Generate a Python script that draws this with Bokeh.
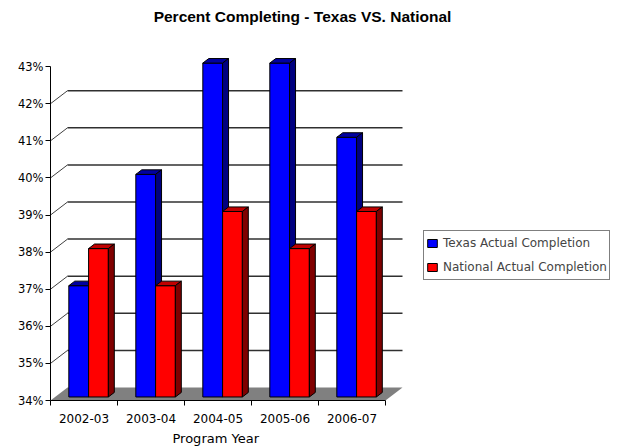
from bokeh.plotting import figure
from bokeh.models import (Range1d, FixedTicker, Legend, LegendItem,
                          PrintfTickFormatter, Title, Label)
from bokeh.embed import file_html
from bokeh.resources import INLINE

# ---- data -------------------------------------------------------------
years = ["2002-03", "2003-04", "2004-05", "2005-06", "2006-07"]
texas = [37, 40, 43, 43, 41]
national = [38, 37, 39, 38, 39]
pct_ticks = [34, 35, 36, 37, 38, 39, 40, 41, 42, 43]
series_names = ["Texas Actual Completion", "National Actual Completion"]
chart_title = "Percent Completing - Texas VS. National"

# ---- layout constants --------------------------------------------------
W, H = 620, 448
B_LEFT, B_RIGHT, B_TOP, B_BOTTOM = 50, 0, 0, 48
PX_CAT = 67.0    # pixels per category along x
PX_PCT = 37.1    # pixels per percentage point along y
frame_w = W - B_LEFT - B_RIGHT
frame_h = H - B_TOP - B_BOTTOM

n = len(years)
y_base = pct_ticks[0]
y_top = pct_ticks[-1]
y_max = y_base + frame_h / PX_PCT

# depth of the 3-D box, expressed in data units
DX = 17 / PX_CAT
DY = 13 / PX_PCT

# bar geometry (fractions of a category / of the box depth)
BW = 0.295
GAP = (1 - 2 * BW) / 2
F0, F1 = 0.27, 0.62

FONT = "DejaVu Sans"

p = figure(
    width=W, height=H,
    x_range=Range1d(0, frame_w / PX_CAT),
    y_range=Range1d(y_base, y_max),
    min_border_left=B_LEFT, min_border_right=B_RIGHT,
    min_border_top=B_TOP, min_border_bottom=B_BOTTOM,
    toolbar_location=None, output_backend="svg",
)
p.xgrid.visible = False
p.ygrid.visible = False
p.outline_line_color = None
p.background_fill_color = "white"
p.border_fill_color = "white"

# chart title, 16 px below the top edge
p.add_layout(Label(
    x=(302 - B_LEFT) / PX_CAT, y=y_max - 16 / PX_PCT,
    text=chart_title, text_align="center", text_baseline="middle",
    text_font="Liberation Sans", text_font_size="15.5px",
    text_font_style="bold", text_color="black",
))

# ---- floor and back wall ----------------------------------------------
p.patch([0, n, n + DX, DX], [y_base, y_base, y_base + DY, y_base + DY],
        fill_color="#808080", line_color=None)

grid_levels = pct_ticks[1:-1]
p.segment(x0=[DX] * len(grid_levels), y0=[v + DY for v in grid_levels],
          x1=[n + DX] * len(grid_levels), y1=[v + DY for v in grid_levels],
          line_color="#303030", line_width=1.5)
p.segment(x0=[0] * len(grid_levels), y0=grid_levels,
          x1=[DX] * len(grid_levels), y1=[v + DY for v in grid_levels],
          line_color="#404040", line_width=1)

# ---- 3-D bars ----------------------------------------------------------
colors = [("#0000FF", "#0000A0", "#000080"),
          ("#FF0000", "#C00000", "#800000")]
front_renderers = []
dd = F1 - F0
for s, vals in enumerate([texas, national]):
    front, top, side = colors[s]
    xl = [i + GAP + s * BW + F0 * DX for i in range(n)]
    xr = [x + BW for x in xl]
    yb = y_base + F0 * DY
    yt = [v + F0 * DY for v in vals]

    fr = p.quad(left=xl, right=xr, bottom=[yb] * n, top=yt,
                fill_color=front, line_color="black", line_width=1)
    front_renderers.append(fr)

    p.patches(
        xs=[[a, b, b + dd * DX, a + dd * DX] for a, b in zip(xl, xr)],
        ys=[[t, t, t + dd * DY, t + dd * DY] for t in yt],
        fill_color=top, line_color="black", line_width=1)
    p.patches(
        xs=[[b, b, b + dd * DX, b + dd * DX] for b in xr],
        ys=[[yb, t, t + dd * DY, yb + dd * DY] for t in yt],
        fill_color=side, line_color="black", line_width=1)

# ---- axes --------------------------------------------------------------
ya = p.yaxis[0]
ya.ticker = FixedTicker(ticks=pct_ticks)
ya.formatter = PrintfTickFormatter(format="%d%%")
ya.bounds = (y_base, y_top)
ya.axis_line_color = "black"
ya.major_tick_in = 0
ya.major_tick_out = 5
ya.minor_tick_line_color = None
ya.major_label_standoff = 2
ya.major_label_text_font = FONT
ya.major_label_text_font_size = "11.5px"
ya.major_label_text_color = "black"

centers = [i + 0.5 for i in range(n)]
xa = p.xaxis[0]
xa.ticker = FixedTicker(ticks=centers, minor_ticks=list(range(n + 1)))
xa.major_label_overrides = {c: y for c, y in zip(centers, years)}
xa.bounds = (0, n)
xa.axis_line_color = "black"
xa.major_tick_line_color = None
xa.minor_tick_in = 0
xa.minor_tick_out = 5
xa.minor_tick_line_color = "black"
xa.major_label_standoff = 7
xa.major_label_text_font = FONT
xa.major_label_text_font_size = "12px"
xa.major_label_text_color = "black"

# axis title, placed under the category span
p.add_layout(Title(
    text="Program Year", align="left", offset=122, standoff=6,
    text_font=FONT, text_font_size="13px", text_font_style="normal",
    text_color="black",
), "below")

# ---- legend ------------------------------------------------------------
legend = Legend(
    items=[LegendItem(label=name, renderers=[r])
           for name, r in zip(series_names, front_renderers)],
    location=(373, 120),
    padding=2, spacing=4, margin=0,
    glyph_width=12, glyph_height=10, label_height=20, label_standoff=5,
    label_text_font=FONT, label_text_font_size="12px",
    border_line_color="black", border_line_width=1,
    background_fill_color="white", background_fill_alpha=1,
)
p.add_layout(legend)

open("out.html", "w").write(file_html(p, INLINE))
